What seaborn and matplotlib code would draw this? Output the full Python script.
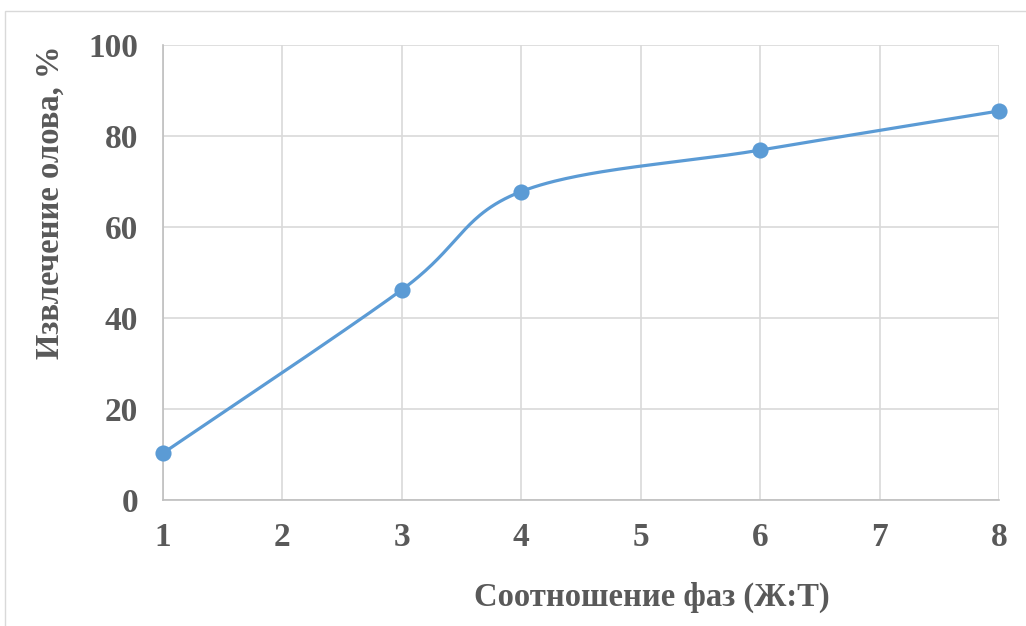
import numpy as np
import pandas as pd
import matplotlib
matplotlib.use("Agg")
import matplotlib.pyplot as plt
from matplotlib.patches import Rectangle
import seaborn as sns

# Phase ratio (L:S) and tin recovery, %
phase_ratio = [1, 3, 4, 6, 8]
tin_recovery = [10.3, 46.2, 67.8, 76.9, 85.5]
x_ticks = [1, 2, 3, 4, 5, 6, 7, 8]
y_ticks = [0, 20, 40, 60, 80, 100]
x_title = "Соотношение фаз (Ж:Т)"
y_title = "Извлечение олова, %"

LINE_BLUE = "#5b9bd5"
TEXT_GREY = "#595959"
GRID_GREY = "#d9d9d9"


def smooth_curve(x, y, n=60):
    """Cardinal (Catmull-Rom) Bezier smoothing through every point."""
    x = np.asarray(x, float)
    y = np.asarray(y, float)
    px = np.concatenate([[x[0]], x, [x[-1]]])
    py = np.concatenate([[y[0]], y, [y[-1]]])
    xs, ys = [], []
    t = np.linspace(0, 1, n)
    for i in range(1, len(px) - 2):
        p0 = np.array([px[i], py[i]])
        p3 = np.array([px[i + 1], py[i + 1]])
        p1 = p0 + (np.array([px[i + 1], py[i + 1]]) - np.array([px[i - 1], py[i - 1]])) / 6
        p2 = p3 - (np.array([px[i + 2], py[i + 2]]) - np.array([px[i], py[i]])) / 6
        b = ((1 - t) ** 3)[:, None] * p0 + (3 * (1 - t) ** 2 * t)[:, None] * p1 \
            + (3 * (1 - t) * t ** 2)[:, None] * p2 + (t ** 3)[:, None] * p3
        xs.append(b[:, 0])
        ys.append(b[:, 1])
    return np.concatenate(xs), np.concatenate(ys)


sns.set_theme(style="white")
plt.rcParams["font.family"] = ["Liberation Serif", "DejaVu Serif"]
plt.rcParams["font.weight"] = "bold"

fig = plt.figure(figsize=(10.26, 6.26), dpi=100)
ax = fig.add_axes([163 / 1026, 1 - 500 / 626, 836 / 1026, 455 / 626])

# outer chart frame
fig.patches.append(Rectangle((5 / 1026, -0.05), 1.2, 1 - 11 / 626 + 0.05,
                             transform=fig.transFigure, fill=False,
                             edgecolor="#d9d9d9", linewidth=1.0))

cx, cy = smooth_curve(phase_ratio, tin_recovery)
curve = pd.DataFrame({"x": cx, "y": cy})
points = pd.DataFrame({"x": phase_ratio, "y": tin_recovery})

sns.lineplot(data=curve, x="x", y="y", ax=ax, color=LINE_BLUE,
             linewidth=2.3, sort=False, estimator=None, zorder=3)
sns.scatterplot(data=points, x="x", y="y", ax=ax, color=LINE_BLUE,
                s=135, edgecolor=LINE_BLUE, linewidth=0, zorder=4, clip_on=False)

ax.set_xlim(1, 8)
ax.set_ylim(0, 100)
ax.set_xticks(x_ticks)
ax.set_yticks(y_ticks)
ax.grid(True, color=GRID_GREY, linewidth=1.2)
ax.set_axisbelow(True)

for side in ["top", "right"]:
    ax.spines[side].set_visible(False)
for side in ["left", "bottom"]:
    ax.spines[side].set_color("#bfbfbf")
    ax.spines[side].set_linewidth(1.2)

ax.tick_params(axis="both", length=0, labelsize=24, labelcolor=TEXT_GREY)
ax.tick_params(axis="y", pad=18)
ax.tick_params(axis="x", pad=16)
for lbl in ax.get_xticklabels() + ax.get_yticklabels():
    lbl.set_fontweight("bold")

ax.set_xlabel(x_title, fontsize=23.5, fontweight="bold", color=TEXT_GREY)
ax.set_ylabel(y_title, fontsize=23.5, fontweight="bold", color=TEXT_GREY)
ax.xaxis.set_label_coords(0.585, -0.213)
ax.yaxis.set_label_coords(-0.135, 0.655)
ax.xaxis.label.set_va("center")
ax.yaxis.label.set_va("center")

fig.savefig("out.png", dpi=100, facecolor="white")
